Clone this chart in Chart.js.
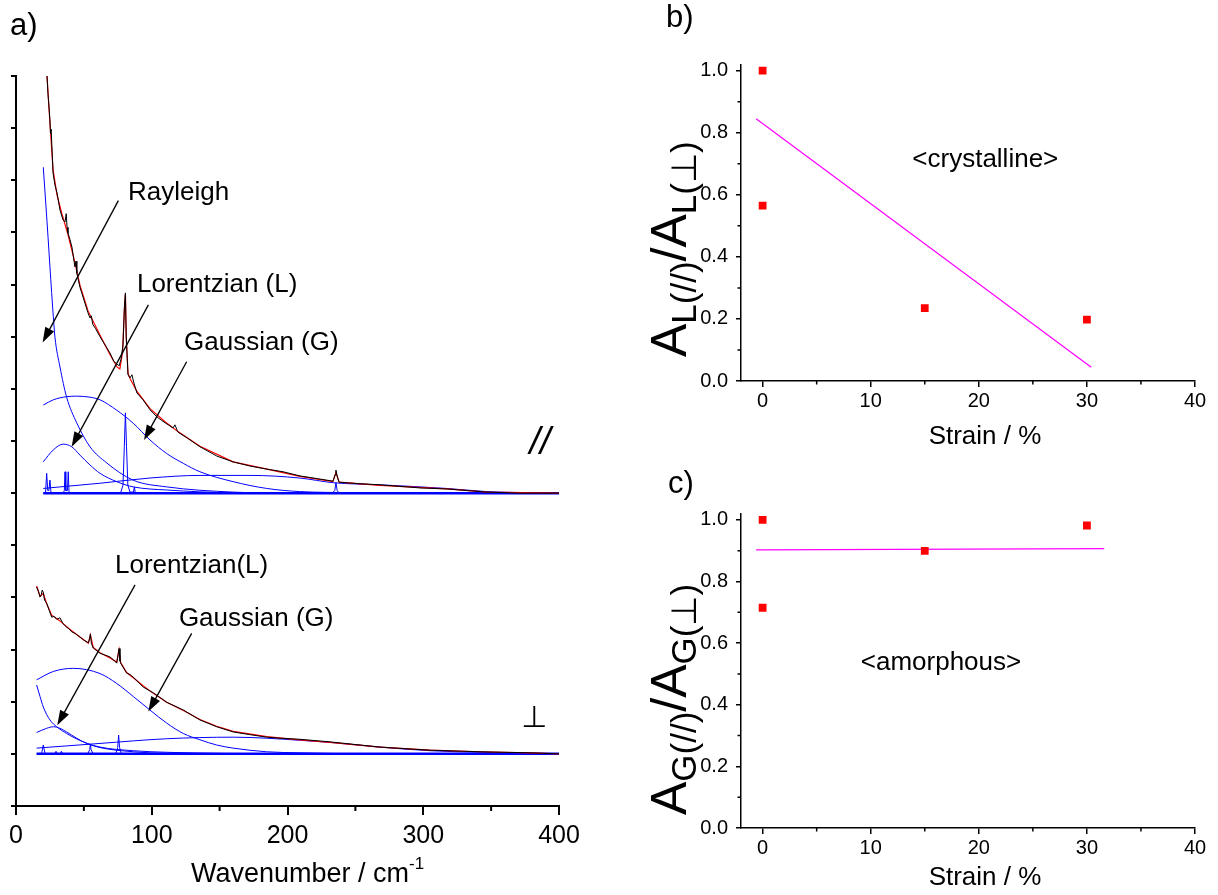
<!DOCTYPE html>
<html>
<head>
<meta charset="utf-8">
<script src="https://cdn.jsdelivr.net/npm/chart.js@4.4.0/dist/chart.umd.min.js"></script>
<style>
  body { margin: 0; background: #fff; width: 1218px; height: 895px; overflow: hidden; position: relative; }
  canvas { position: absolute; }
</style>
</head>
<body>
<canvas id="chartA" width="600" height="895" style="left:0;top:0"></canvas>
<canvas id="chartB" width="618" height="460" style="left:600px;top:0"></canvas>
<canvas id="chartC" width="618" height="445" style="left:600px;top:450px"></canvas>
<script>
// ---- panel a: parallel (//) spectrum, offset by 6 ----
const parWn  = [22.8, 23.6, 25.0, 25.4, 25.9, 27.3, 28.7, 30.2, 32.4, 34.6, 36.1, 37.0, 37.6, 38.3, 39.8, 41.2, 43.4, 44.2, 44.8, 47.1, 50.1, 53.0, 54.5, 55.5, 56.5, 58.5, 61.9, 65.6, 69.2, 72.2, 74.4, 75.9, 77.3, 78.8, 79.9, 80.6, 81.2, 82.5, 84.0, 85.4, 86.9, 89.1, 93.6, 98.7, 103.9, 109.8, 115.7, 117.1, 119.3, 126.0, 135.5, 148.0, 159.9, 172.4, 184.9, 196.7, 209.2, 223.9, 233.5, 235.0, 235.7, 236.5, 238.0, 253.4, 268.0, 297.6, 317.5, 347.0, 371.0, 400.0];
const parExp = [14.02, 13.64, 13.16, 12.90, 12.98, 12.14, 11.91, 11.76, 11.43, 11.24, 11.20, 11.36, 11.10, 10.99, 10.86, 10.72, 10.34, 10.45, 10.22, 9.95, 9.70, 9.46, 9.36, 9.40, 9.24, 9.16, 9.00, 8.84, 8.69, 8.52, 8.48, 8.44, 8.56, 8.84, 9.60, 9.84, 9.00, 8.27, 8.21, 8.27, 8.11, 7.92, 7.79, 7.60, 7.46, 7.35, 7.25, 7.31, 7.17, 7.06, 6.89, 6.71, 6.60, 6.52, 6.46, 6.41, 6.33, 6.27, 6.23, 6.35, 6.44, 6.33, 6.21, 6.18, 6.16, 6.10, 6.08, 6.02, 6.00, 6.00];
const parFitWn = [22.8, 25.0, 27.3, 30.2, 33.9, 38.3, 43.4, 47.1, 53.0, 61.9, 69.2, 74.4, 76.5, 78.5, 79.8, 80.6, 81.2, 82.5, 84.0, 89.1, 98.7, 109.8, 119.3, 135.5, 159.9, 184.9, 209.2, 233.5, 235.7, 238.0, 268.0, 317.5, 347.0, 400.0];
const parFit   = [14.02, 13.10, 12.20, 11.72, 11.35, 10.96, 10.42, 9.99, 9.50, 9.03, 8.66, 8.42, 8.38, 8.70, 9.50, 9.82, 9.00, 8.30, 8.20, 7.95, 7.62, 7.37, 7.18, 6.90, 6.60, 6.46, 6.32, 6.22, 6.40, 6.21, 6.15, 6.08, 6.02, 6.00];
const parRayWn = [20.1, 22.1, 23.6, 25.0, 27.5, 28.7, 32.4, 37.3, 44.7, 54.5, 66.8, 86.2, 111.0, 159.9, 209.0, 400.0];
const parRay   = [12.25, 11.49, 10.91, 10.34, 9.38, 8.99, 8.42, 7.84, 7.35, 6.89, 6.58, 6.25, 6.12, 6.02, 6.00, 6.00];
const parGauWn = [20.1, 27.5, 37.3, 44.7, 54.5, 61.9, 74.2, 86.4, 98.7, 111.0, 123.3, 135.5, 160.0, 184.7, 209.0, 250.0, 300.0, 400.0];
const parGau   = [7.69, 7.79, 7.85, 7.86, 7.84, 7.79, 7.59, 7.34, 7.02, 6.76, 6.57, 6.41, 6.22, 6.09, 6.03, 6.01, 6.00, 6.00];
const parLorWn = [20.1, 27.5, 34.8, 41.0, 47.1, 54.5, 61.9, 74.2, 86.4, 111.0, 160.0, 400.0];
const parLor   = [6.60, 6.83, 6.94, 6.89, 6.73, 6.54, 6.38, 6.22, 6.12, 6.06, 6.01, 6.00];
const parBroadWn = [20.1, 61.9, 98.7, 135.5, 172.4, 209.0, 233.7, 268.0, 317.3, 346.7, 400.0];
const parBroad   = [6.09, 6.19, 6.29, 6.34, 6.34, 6.29, 6.20, 6.16, 6.09, 6.03, 6.00];
const parPeakWn = [20.1, 21.8, 22.6, 23.4, 24.2, 25.0, 25.8, 34.8, 35.6, 36.1, 36.7, 37.9, 38.5, 39.1, 77.0, 78.8, 79.8, 80.6, 81.4, 82.4, 84.0, 86.5, 87.2, 87.9, 233.0, 234.8, 235.7, 236.6, 238.0, 400.0];
const parPeak   = [6.00, 6.02, 6.38, 6.05, 6.05, 6.25, 6.00, 6.00, 6.05, 6.41, 6.05, 6.05, 6.41, 6.00, 6.00, 6.15, 6.90, 7.54, 6.90, 6.15, 6.02, 6.02, 6.12, 6.00, 6.00, 6.05, 6.20, 6.05, 6.00, 6.00];
const parBaseWn = [20.1, 400.0];
const parBase   = [6.0, 6.0];

// ---- panel a: perpendicular spectrum, offset by 1 ----
const perWn  = [15.2, 16.5, 17.7, 18.6, 19.3, 20.1, 21.0, 22.6, 24.5, 26.3, 28.0, 30.0, 32.4, 34.5, 37.3, 39.0, 41.0, 43.5, 47.1, 50.0, 53.3, 54.3, 54.8, 55.5, 56.9, 61.9, 65.0, 69.2, 72.0, 74.2, 75.5, 75.9, 76.6, 77.1, 81.5, 84.0, 86.4, 93.8, 101.2, 111.0, 123.3, 135.5, 147.8, 160.0, 172.0, 184.7, 194.5, 209.0, 231.3, 268.0, 305.0, 341.8, 378.6, 400.0];
const perExp = [4.20, 4.12, 4.01, 4.05, 4.14, 4.10, 3.95, 3.89, 3.75, 3.62, 3.64, 3.58, 3.61, 3.50, 3.43, 3.40, 3.34, 3.31, 3.24, 3.18, 3.13, 3.22, 3.30, 3.12, 3.03, 2.93, 2.90, 2.86, 2.80, 2.74, 2.95, 3.02, 2.78, 2.74, 2.55, 2.52, 2.47, 2.28, 2.17, 1.99, 1.84, 1.65, 1.52, 1.42, 1.37, 1.32, 1.30, 1.28, 1.23, 1.13, 1.07, 1.04, 1.02, 1.00];
const perFitWn = [15.2, 17.7, 20.1, 22.6, 26.3, 32.4, 37.3, 41.0, 47.1, 53.3, 54.8, 56.9, 61.9, 69.2, 74.2, 75.9, 77.1, 81.5, 86.4, 93.8, 101.2, 111.0, 123.3, 135.5, 147.8, 160.0, 184.7, 209.0, 231.3, 268.0, 305.0, 341.8, 378.6, 400.0];
const perFit   = [4.22, 4.02, 4.08, 3.88, 3.66, 3.55, 3.44, 3.36, 3.24, 3.12, 3.28, 3.04, 2.94, 2.84, 2.76, 3.00, 2.75, 2.56, 2.46, 2.30, 2.16, 1.99, 1.83, 1.66, 1.53, 1.43, 1.33, 1.27, 1.22, 1.13, 1.07, 1.04, 1.02, 1.00];
const perRayWn = [15.2, 17.7, 20.1, 25.0, 30.0, 37.3, 49.6, 61.9, 86.4, 111.0, 200.0, 400.0];
const perRay   = [2.32, 2.10, 1.90, 1.65, 1.52, 1.39, 1.23, 1.13, 1.06, 1.03, 1.00, 1.00];
const perGauWn = [15.2, 27.5, 42.2, 61.9, 74.2, 86.4, 98.7, 111.0, 123.3, 135.5, 147.8, 160.0, 184.7, 209.0, 260.0, 400.0];
const perGau   = [2.42, 2.58, 2.64, 2.54, 2.35, 2.10, 1.84, 1.59, 1.39, 1.27, 1.17, 1.11, 1.04, 1.02, 1.00, 1.00];
const perLorWn = [15.2, 22.6, 27.5, 32.4, 37.3, 44.7, 52.1, 61.9, 86.4, 111.0, 400.0];
const perLor   = [1.41, 1.49, 1.52, 1.49, 1.42, 1.30, 1.20, 1.12, 1.04, 1.01, 1.00];
const perBroadWn = [15.2, 61.9, 111.0, 160.0, 184.7, 209.0, 231.3, 268.0, 305.0, 341.8, 400.0];
const perBroad   = [1.11, 1.20, 1.29, 1.32, 1.30, 1.26, 1.22, 1.13, 1.06, 1.03, 1.00];
const perPeakWn = [15.2, 18.8, 20.1, 21.4, 28.5, 29.5, 30.5, 32.5, 33.5, 34.5, 52.8, 54.3, 54.8, 55.3, 56.8, 73.5, 74.9, 75.6, 76.3, 77.7, 400.0];
const perPeak   = [1.00, 1.00, 1.17, 1.00, 1.00, 1.05, 1.00, 1.00, 1.05, 1.00, 1.00, 1.08, 1.19, 1.08, 1.00, 1.00, 1.12, 1.36, 1.12, 1.00, 1.00];
const perBaseWn = [15.2, 400.0];
const perBase   = [1.0, 1.0];

const waveTicks = [0, 100, 200, 300, 400];
const waveMinor = [50, 150, 250, 350];
const intensityTicks = [0, 1, 2, 3, 4, 5, 6, 7, 8, 9, 10, 11, 12, 13, 14];

// ---- panels b and c ----
const strainTicks = [0, 10, 20, 30, 40];
const strainMinor = [5, 15, 25, 35];
const ratioTicks = [0, 0.2, 0.4, 0.6, 0.8, 1.0];
const ratioMinor = [0.1, 0.3, 0.5, 0.7, 0.9];

const strainB = [0, 0, 15, 30];
const ratioL  = [1.0, 0.565, 0.235, 0.198];
const fitBx   = [-0.6, 30.4];
const fitBy   = [0.845, 0.044];

const strainC = [0, 0, 15, 30];
const ratioG  = [1.0, 0.715, 0.90, 0.982];
const fitCx   = [-0.6, 31.6];
const fitCy   = [0.903, 0.907];

const FONT = '"Liberation Sans", Arial, Helvetica, sans-serif';
const BLUE = '#0000ff';
const RED = '#ff0000';

const pts = (xs, ys) => xs.map((x, i) => ({ x, y: ys[i] }));

function line(xs, ys, color, w, smooth) {
  return {
    data: pts(xs, ys),
    showLine: true,
    borderColor: color,
    borderWidth: w,
    pointRadius: 0,
    fill: false,
    tension: 0,
    cubicInterpolationMode: smooth ? 'monotone' : 'default'
  };
}

function drawRich(ctx, x, y, segs, rot, align, base) {
  ctx.save();
  ctx.translate(x, y);
  ctx.rotate(rot || 0);
  ctx.textBaseline = base || 'alphabetic';
  ctx.textAlign = 'left';
  const fontOf = s => (s.style || '') + ' ' + s.size + 'px ' + (s.family || FONT);
  let total = 0;
  segs.forEach(s => { ctx.font = fontOf(s); s.w = ctx.measureText(s.t).width; total += s.w; });
  let cx = align === 'center' ? -total / 2 : 0;
  segs.forEach(s => {
    ctx.font = fontOf(s);
    ctx.fillText(s.t, cx, s.dy || 0);
    cx += s.w;
  });
  ctx.restore();
}

function drawArrow(ctx, x1, y1, x2, y2) {
  const ang = Math.atan2(y2 - y1, x2 - x1);
  const len = 15, half = 5;
  ctx.lineWidth = 1.3;
  ctx.beginPath();
  ctx.moveTo(x1, y1);
  ctx.lineTo(x2 - Math.cos(ang) * len * 0.8, y2 - Math.sin(ang) * len * 0.8);
  ctx.stroke();
  ctx.beginPath();
  ctx.moveTo(x2, y2);
  ctx.lineTo(x2 - Math.cos(ang) * len - Math.sin(ang) * half, y2 - Math.sin(ang) * len + Math.cos(ang) * half);
  ctx.lineTo(x2 - Math.cos(ang) * len + Math.sin(ang) * half, y2 - Math.sin(ang) * len - Math.cos(ang) * half);
  ctx.closePath();
  ctx.fill();
}

// short ticks between the labelled ones
const minorTicks = {
  id: 'minorTicks',
  afterDraw(chart, args, o) {
    const { ctx, scales: { x, y } } = chart;
    ctx.save();
    ctx.strokeStyle = '#000';
    ctx.lineWidth = o.width;
    ctx.beginPath();
    (o.x || []).forEach(v => {
      const px = x.getPixelForValue(v);
      ctx.moveTo(px, x.top);
      ctx.lineTo(px, x.top + o.len);
    });
    (o.y || []).forEach(v => {
      const py = y.getPixelForValue(v);
      ctx.moveTo(y.right - o.len, py);
      ctx.lineTo(y.right, py);
    });
    ctx.stroke();
    ctx.restore();
  }
};

// labels, titles and arrows
const figText = {
  id: 'figText',
  afterDraw(chart, args, o) {
    const { ctx, scales: { x, y } } = chart;
    ctx.save();
    ctx.fillStyle = '#000';
    ctx.strokeStyle = '#000';
    (o.arrows || []).forEach(a => drawArrow(ctx,
      x.getPixelForValue(a[0]), y.getPixelForValue(a[1]),
      x.getPixelForValue(a[2]), y.getPixelForValue(a[3])));
    (o.items || []).forEach(it => {
      const px = it.data ? x.getPixelForValue(it.x) : it.x;
      const py = it.data ? y.getPixelForValue(it.y) : it.y;
      drawRich(ctx, px, py, it.segs, it.rot, it.align, it.base);
    });
    ctx.restore();
  }
};

function axis(opts) {
  return {
    type: 'linear',
    min: opts.min,
    max: opts.max,
    afterBuildTicks: s => { s.ticks = opts.ticks.map(v => ({ value: v })); },
    afterFit: s => { if (opts.width != null) s.width = opts.width; if (opts.height != null) s.height = opts.height; },
    border: { display: true, color: '#000', width: opts.lw },
    grid: { drawOnChartArea: false, color: '#000', lineWidth: opts.lw, tickLength: opts.tick },
    ticks: {
      color: '#000',
      font: { family: FONT, size: opts.font },
      padding: opts.pad,
      autoSkip: false,
      maxRotation: 0,
      callback: opts.label || (v => v)
    }
  };
}

const base = {
  responsive: false,
  animation: false,
  devicePixelRatio: 1,
  events: []
};

new Chart(document.getElementById('chartA'), {
  type: 'scatter',
  data: {
    datasets: [
      line(parWn, parExp, '#000', 1),
      line(perWn, perExp, '#000', 1),
      line(parFitWn, parFit, RED, 1.2),
      line(perFitWn, perFit, RED, 1.2),
      line(parRayWn, parRay, BLUE, 1, true),
      line(parGauWn, parGau, BLUE, 1, true),
      line(parLorWn, parLor, BLUE, 1, true),
      line(parBroadWn, parBroad, BLUE, 1, true),
      line(parPeakWn, parPeak, BLUE, 1),
      line(parBaseWn, parBase, BLUE, 2.5),
      line(perRayWn, perRay, BLUE, 1, true),
      line(perGauWn, perGau, BLUE, 1, true),
      line(perLorWn, perLor, BLUE, 1, true),
      line(perBroadWn, perBroad, BLUE, 1, true),
      line(perPeakWn, perPeak, BLUE, 1),
      line(perBaseWn, perBase, BLUE, 2.5)
    ]
  },
  options: {
    ...base,
    layout: { padding: { left: 0, right: 41, top: 76, bottom: 0 } },
    plugins: {
      legend: { display: false },
      tooltip: { enabled: false },
      minorTicks: { x: waveMinor, len: 5, width: 2 },
      figText: {
        arrows: [
          [75.4, 11.61, 19.6, 8.89],
          [97.5, 9.61, 41.0, 6.89],
          [125.7, 8.52, 94.3, 7.02],
          [87.7, 4.24, 30.4, 1.55],
          [129.4, 3.31, 97.5, 1.81]
        ],
        items: [
          { data: true, x: 82.5, y: 11.76, base: 'middle', segs: [{ t: 'Rayleigh', size: 26 }] },
          { data: true, x: 89.1, y: 9.99, base: 'middle', segs: [{ t: 'Lorentzian (L)', size: 26 }] },
          { data: true, x: 123.8, y: 8.88, base: 'middle', segs: [{ t: 'Gaussian (G)', size: 26 }] },
          { data: true, x: 72.9, y: 4.60, base: 'middle', segs: [{ t: 'Lorentzian(L)', size: 26 }] },
          { data: true, x: 120, y: 3.59, base: 'middle', segs: [{ t: 'Gaussian (G)', size: 26 }] },
          { data: true, x: 386, y: 6.96, base: 'middle', align: 'center', segs: [{ t: '//', size: 38, style: 'italic' }] },
          { data: true, x: 381.6, y: 1.67, base: 'middle', align: 'center', segs: [{ t: '⊥', size: 30, family: '"DejaVu Sans", sans-serif' }] },
          { x: 191, y: 882, segs: [{ t: 'Wavenumber / cm', size: 27 }, { t: '-1', size: 17, dy: -13 }] },
          { x: 10, y: 35, segs: [{ t: 'a)', size: 31 }] }
        ]
      }
    },
    scales: {
      x: axis({ min: 0, max: 400, ticks: waveTicks, height: 89, lw: 2, tick: 9, font: 25, pad: 6 }),
      y: axis({ min: 0, max: 14, ticks: intensityTicks, width: 16, lw: 2, tick: 5, font: 10, pad: 0, label: () => '' })
    }
  },
  plugins: [minorTicks, figText]
});

function ratioChart(id, xs, ys, fx, fy, h, bottomH, extraItems) {
  return new Chart(document.getElementById(id), {
    type: 'scatter',
    data: {
      datasets: [
        { data: pts(xs, ys), pointStyle: 'rect', pointRadius: 5.5, pointBackgroundColor: RED, pointBorderWidth: 0, showLine: false },
        line(fx, fy, '#ff00ff', 1.2)
      ]
    },
    options: {
      ...base,
      layout: { padding: { left: 0, right: 23, top: h, bottom: 0 } },
      plugins: {
        legend: { display: false },
        tooltip: { enabled: false },
        minorTicks: { x: strainMinor, y: ratioMinor, len: 3.5, width: 1.5 },
        figText: { items: extraItems }
      },
      scales: {
        x: axis({ min: -2, max: 40, ticks: strainTicks, height: bottomH, lw: 1.5, tick: 6, font: 20, pad: 2 }),
        y: axis({ min: 0, max: 1.02, ticks: ratioTicks, width: 141, lw: 1.5, tick: 5, font: 20, pad: 8, label: v => v.toFixed(1) })
      }
    },
    plugins: [minorTicks, figText]
  });
}

const perp = '⊥';
ratioChart('chartB', strainB, ratioL, fitBx, fitBy, 64.5, 79, [
  { x: 66, y: 27, segs: [{ t: 'b)', size: 31 }] },
  { data: true, x: 20.6, y: 0.713, base: 'middle', align: 'center', segs: [{ t: '<crystalline>', size: 26 }] },
  { x: 385, y: 437, base: 'middle', align: 'center', segs: [{ t: 'Strain / %', size: 26 }] },
  { x: 86, y: 357, rot: -Math.PI / 2, segs: [
    { t: 'A', size: 50 }, { t: 'L(//)', size: 35, dy: 10 },
    { t: '/A', size: 50 }, { t: 'L(' + perp + ')', size: 35, dy: 10 }
  ] }
]);

ratioChart('chartC', strainC, ratioG, fitCx, fitCy, 63.8, 67, [
  { x: 68, y: 43, segs: [{ t: 'c)', size: 31 }] },
  { data: true, x: 16.5, y: 0.536, base: 'middle', align: 'center', segs: [{ t: '<amorphous>', size: 26 }] },
  { x: 385, y: 428, base: 'middle', align: 'center', segs: [{ t: 'Strain / %', size: 26 }] },
  { x: 86, y: 365, rot: -Math.PI / 2, segs: [
    { t: 'A', size: 50 }, { t: 'G(//)', size: 35, dy: 10 },
    { t: '/A', size: 50 }, { t: 'G(' + perp + ')', size: 35, dy: 10 }
  ] }
]);
</script>
</body>
</html>
